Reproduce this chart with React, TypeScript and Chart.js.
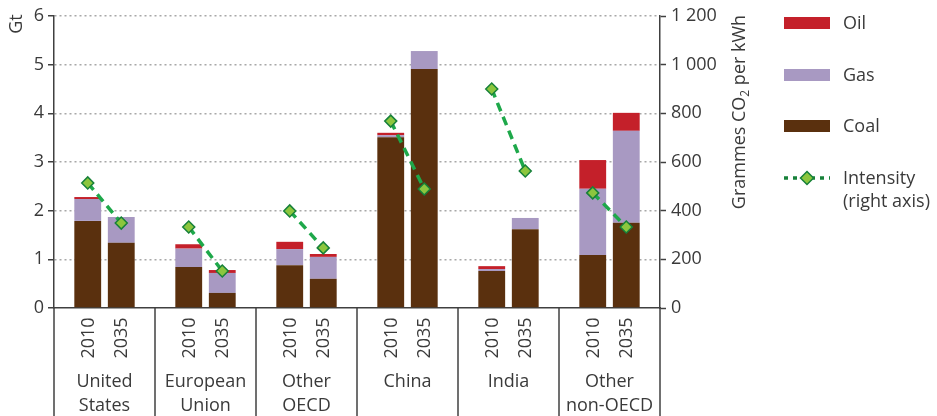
import React, { useEffect, useRef } from "react";
import { Chart, registerables } from "chart.js";

Chart.register(...registerables);

// ---- Data ----
const regionLines: string[][] = [
  ["United", "States"],
  ["European", "Union"],
  ["Other", "OECD"],
  ["China"],
  ["India"],
  ["Other", "non-OECD"],
];
const years = ["2010", "2035"];

const coal2010 = [1.79, 0.84, 0.88, 3.51, 0.76, 1.09];
const gas2010 = [0.45, 0.38, 0.33, 0.04, 0.04, 1.36];
const oil2010 = [0.04, 0.09, 0.15, 0.05, 0.06, 0.59];

const coal2035 = [1.34, 0.31, 0.6, 4.91, 1.62, 1.75];
const gas2035 = [0.53, 0.41, 0.45, 0.37, 0.23, 1.89];
const oil2035 = [0, 0.06, 0.06, 0, 0, 0.37];

const intensity2010 = [514, 333, 399, 768, 900, 473];
const intensity2035 = [349, 152, 247, 489, 563, 333];

const leftTicks = { min: 0, max: 6, step: 1 };
const rightTicks = { min: 0, max: 1200, step: 200 };

// ---- Styles ----
const FONT = "'Open Sans', 'Noto Sans', sans-serif";
const TEXT = "#3a3a3a";
const AXIS = "#404040";
const COAL = "#5a300e";
const GAS = "#a899c2";
const OIL = "#c4202a";
const LINE = "#1ea84a";
const MARK_FILL = "#8cc63e";
const MARK_BORDER = "#17813a";

// position of the two year bars inside each region (in region units)
const YEAR_OFFSET = 0.166;

function fmtThousands(v: number): string {
  if (v >= 1000) {
    const th = Math.floor(v / 1000);
    const rest = String(v % 1000).padStart(3, "0");
    return `${th} ${rest}`;
  }
  return String(v);
}

function pairSeries(a2010: number[], a2035: number[]) {
  const pts: any[] = [];
  a2010.forEach((v, i) => {
    pts.push({ x: i + 0.5 - YEAR_OFFSET, y: v });
    pts.push({ x: i + 0.5 + YEAR_OFFSET, y: a2035[i] });
  });
  return pts;
}

const annotationPlugin = {
  id: "customAnnotations",
  afterDraw(chart: any) {
    const { ctx, chartArea, scales } = chart;
    const x = scales.x;
    const n = regionLines.length;
    const H = chart.height;
    ctx.save();

    // group separators
    ctx.strokeStyle = AXIS;
    ctx.lineWidth = 1.5;
    for (let i = 0; i <= n; i++) {
      const px = x.getPixelForValue(i);
      ctx.beginPath();
      ctx.moveTo(px, chartArea.bottom);
      ctx.lineTo(px, H);
      ctx.stroke();
    }

    // years (rotated) and region names
    ctx.fillStyle = TEXT;
    ctx.font = `18px ${FONT}`;
    for (let i = 0; i < n; i++) {
      const cx = x.getPixelForValue(i + 0.5);
      years.forEach((yr, k) => {
        const bx = x.getPixelForValue(i + 0.5 + (k === 0 ? -YEAR_OFFSET : YEAR_OFFSET));
        ctx.save();
        ctx.translate(bx, chartArea.bottom + 30);
        ctx.rotate(-Math.PI / 2);
        ctx.textAlign = "center";
        ctx.textBaseline = "middle";
        ctx.fillText(yr, 0, 1);
        ctx.restore();
      });
      ctx.textAlign = "center";
      ctx.textBaseline = "middle";
      regionLines[i].forEach((ln, j) => {
        ctx.fillText(ln, cx, chartArea.bottom + 74 + j * 24);
      });
    }

    // left title "Gt"
    ctx.save();
    ctx.translate(17, 24);
    ctx.rotate(-Math.PI / 2);
    ctx.textAlign = "center";
    ctx.textBaseline = "middle";
    ctx.font = `18px ${FONT}`;
    ctx.fillText("Gt", 0, 0);
    ctx.restore();

    // right title "Grammes CO2 per kWh"
    ctx.save();
    const part1 = "Grammes CO";
    const sub = "2";
    const part2 = " per kWh";
    ctx.font = `18px ${FONT}`;
    const w1 = ctx.measureText(part1).width;
    const w3 = ctx.measureText(part2).width;
    ctx.font = `12px ${FONT}`;
    const w2 = ctx.measureText(sub).width;
    const total = w1 + w2 + w3;
    ctx.translate(740, 112);
    ctx.rotate(-Math.PI / 2);
    ctx.textAlign = "left";
    ctx.textBaseline = "middle";
    ctx.font = `18px ${FONT}`;
    ctx.fillText(part1, -total / 2, 0);
    ctx.font = `12px ${FONT}`;
    ctx.fillText(sub, -total / 2 + w1, 6);
    ctx.font = `18px ${FONT}`;
    ctx.fillText(part2, -total / 2 + w1 + w2, 0);
    ctx.restore();

    // legend
    const lx = 784;
    const lw = 46;
    const tx = 843;
    const items = [
      { label: "Oil", color: OIL, y: 23 },
      { label: "Gas", color: GAS, y: 75 },
      { label: "Coal", color: COAL, y: 126 },
    ];
    ctx.font = `18px ${FONT}`;
    ctx.textAlign = "left";
    ctx.textBaseline = "middle";
    items.forEach((it) => {
      ctx.fillStyle = it.color;
      ctx.fillRect(lx, it.y - 6, lw, 12);
      ctx.fillStyle = TEXT;
      ctx.fillText(it.label, tx, it.y + 1);
    });
    // intensity legend
    const iy = 178;
    ctx.strokeStyle = MARK_BORDER;
    ctx.lineWidth = 3.5;
    ctx.setLineDash([4, 5]);
    ctx.beginPath();
    ctx.moveTo(lx, iy);
    ctx.lineTo(lx + lw, iy);
    ctx.stroke();
    ctx.setLineDash([]);
    const dx = lx + lw / 2;
    const r = 6.5;
    ctx.beginPath();
    ctx.moveTo(dx, iy - r);
    ctx.lineTo(dx + r, iy);
    ctx.lineTo(dx, iy + r);
    ctx.lineTo(dx - r, iy);
    ctx.closePath();
    ctx.fillStyle = MARK_FILL;
    ctx.fill();
    ctx.lineWidth = 1.5;
    ctx.strokeStyle = MARK_BORDER;
    ctx.stroke();
    ctx.fillStyle = TEXT;
    ctx.fillText("Intensity", tx, iy + 1);
    ctx.fillText("(right axis)", tx, iy + 24);

    ctx.restore();
  },
};

export default function App() {
  const canvasRef = useRef<HTMLCanvasElement | null>(null);

  useEffect(() => {
    document.body.style.margin = "0";
    const canvas = canvasRef.current;
    if (!canvas) return;

    const linePts: any[] = [];
    for (let i = 0; i < regionLines.length; i++) {
      linePts.push({ x: i + 0.5 - YEAR_OFFSET, y: intensity2010[i] });
      linePts.push({ x: i + 0.5 + YEAR_OFFSET, y: intensity2035[i] });
      linePts.push({ x: i + 1, y: null });
    }

    const barCommon = {
      type: "bar" as const,
      categoryPercentage: 1,
      barPercentage: 0.8,
      borderWidth: 0,
      order: 1,
      yAxisID: "y",
      xAxisID: "x",
      stack: "main",
    };

    const chart = new Chart(canvas, {
      type: "bar",
      data: {
        datasets: [
          { ...barCommon, label: "Coal", data: pairSeries(coal2010, coal2035), backgroundColor: COAL },
          { ...barCommon, label: "Gas", data: pairSeries(gas2010, gas2035), backgroundColor: GAS },
          { ...barCommon, label: "Oil", data: pairSeries(oil2010, oil2035), backgroundColor: OIL },
          {
            type: "line" as const,
            label: "Intensity (right axis)",
            data: linePts,
            xAxisID: "x",
            yAxisID: "y2",
            order: 0,
            borderColor: LINE,
            borderWidth: 3.5,
            borderDash: [9, 6],
            spanGaps: false,
            fill: false,
            tension: 0,
            pointStyle: "rectRot",
            pointRadius: 6,
            pointBackgroundColor: MARK_FILL,
            pointBorderColor: MARK_BORDER,
            pointBorderWidth: 1.5,
          } as any,
        ],
      },
      options: {
        animation: false,
        responsive: true,
        maintainAspectRatio: false,
        layout: { padding: { top: 16, left: 0, right: 0, bottom: 0 } },
        plugins: {
          legend: { display: false },
          tooltip: { enabled: false },
        },
        scales: {
          x: {
            type: "linear",
            min: 0,
            max: regionLines.length,
            offset: false,
            grid: { display: false, drawTicks: false, offset: false },
            ticks: { display: false, stepSize: 1 },
            border: { display: true, color: AXIS, width: 1.5 },
            afterFit: (s: any) => {
              s.height = 108;
            },
          },
          y: {
            type: "linear",
            position: "left",
            stacked: true,
            min: leftTicks.min,
            max: leftTicks.max,
            ticks: {
              stepSize: leftTicks.step,
              color: TEXT,
              font: { family: FONT, size: 18 },
              padding: 4,
            },
            grid: {
              color: (c: any) => (c.tick && c.tick.value === 0 ? "rgba(0,0,0,0)" : "#a8a8a8"),
              lineWidth: 1.5,
              tickLength: 6,
              tickColor: AXIS,
              tickWidth: 1.5,
              tickBorderDash: [],
            },
            border: { display: true, color: AXIS, width: 1.5, dash: [2, 3] },
            afterFit: (s: any) => {
              s.width = 54;
            },
          },
          y2: {
            type: "linear",
            position: "right",
            min: rightTicks.min,
            max: rightTicks.max,
            ticks: {
              stepSize: rightTicks.step,
              color: TEXT,
              font: { family: FONT, size: 18 },
              padding: 5,
              callback: (v: any) => fmtThousands(Number(v)),
            },
            grid: {
              drawOnChartArea: false,
              tickLength: 6,
              tickColor: AXIS,
              tickWidth: 1.5,
            },
            border: { display: true, color: AXIS, width: 1.5 },
            afterFit: (s: any) => {
              s.width = 277;
            },
          },
        },
      } as any,
      plugins: [annotationPlugin],
    });

    return () => chart.destroy();
  }, []);

  return (
    <div style={{ position: "absolute", left: 0, top: 0, width: 937, height: 416 }}>
      <canvas ref={canvasRef} />
    </div>
  );
}
